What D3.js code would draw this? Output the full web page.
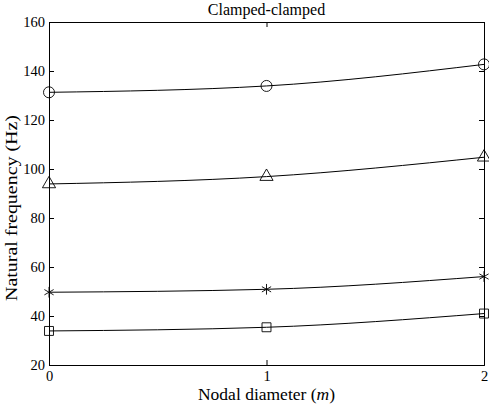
<!DOCTYPE html>
<html>
<head>
<meta charset="utf-8">
<script src="https://cdn.jsdelivr.net/npm/d3@7"></script>
<style>
	body{margin:0;background:#fff;}
	svg text{font-family:"Liberation Serif","Times New Roman",serif;fill:#000;}
</style>
</head>
<body>
<svg id="chart" width="489" height="405"></svg>
<script>
// nodal diameter
var modes = [0, 1, 2];
var xTicks = [0, 1, 2];
var yTicks = [20, 40, 60, 80, 100, 120, 140, 160];
// natural frequencies (Hz)
var circleSeries = [131.3, 133.9, 142.7];
var triangleSeries = [93.9, 96.9, 104.8];
var starSeries = [49.7, 50.9, 56.1];
var squareSeries = [33.9, 35.4, 41.0];

var series = [
	{marker: "circle", values: circleSeries},
	{marker: "triangle", values: triangleSeries},
	{marker: "star", values: starSeries},
	{marker: "square", values: squareSeries}
];

var svg = d3.select("#chart");
var margin = {left: 49, right: 5, top: 22, bottom: 40};
var W = 489, H = 405;

var x = d3.scaleLinear().domain([0, 2]).range([margin.left, W - margin.right]);
var y = d3.scaleLinear().domain([20, 160]).range([H - margin.bottom, margin.top]);

// axes, ticks drawn inward like matlab
var tk = 5;
svg.append("g").attr("transform", "translate(0," + y(20) + ")")
	.call(d3.axisBottom(x).tickValues(xTicks).tickSize(-tk).tickPadding(6).tickFormat(d3.format("d")));
svg.append("g").attr("transform", "translate(0," + y(160) + ")")
	.call(d3.axisTop(x).tickValues(xTicks).tickSize(-tk).tickFormat(""));
svg.append("g").attr("transform", "translate(" + x(0) + ",0)")
	.call(d3.axisLeft(y).tickValues(yTicks).tickSize(-tk).tickPadding(4));
svg.append("g").attr("transform", "translate(" + x(2) + ",0)")
	.call(d3.axisRight(y).tickValues(yTicks).tickSize(-tk).tickFormat(""));

svg.selectAll(".domain").attr("stroke", "#000").attr("stroke-width", 1);
svg.selectAll(".tick line").attr("stroke", "#000");
svg.selectAll(".tick text").attr("font-size", 14.5).attr("font-family", "Liberation Serif");

// curves
var line = d3.line()
	.x(function(d, i){ return x(modes[i]); })
	.y(function(d){ return y(d); })
	.curve(d3.curveMonotoneX);

var g = svg.append("g");
series.forEach(function(s){
	g.append("path")
		.attr("d", line(s.values))
		.attr("fill", "none")
		.attr("stroke", "#000")
		.attr("stroke-width", 1);
});

// markers
var symbols = {
	circle: d3.symbol().type(d3.symbolCircle).size(95),
	triangle: d3.symbol().type(d3.symbolTriangle).size(75),
	star: d3.symbol().type(d3.symbolAsterisk).size(80),
	square: d3.symbol().type(d3.symbolSquare).size(80)
};
series.forEach(function(s){
	g.selectAll(null).data(s.values).enter().append("path")
		.attr("transform", function(d, i){ return "translate(" + x(modes[i]) + "," + y(d) + ")"; })
		.attr("d", symbols[s.marker])
		.attr("fill", "none")
		.attr("stroke", "#000")
		.attr("stroke-width", 0.9);
});

// labels
svg.append("text").attr("x", (x(0) + x(2)) / 2).attr("y", 15)
	.attr("text-anchor", "middle").attr("font-size", 16).text("Clamped-clamped");

var xl = svg.append("text").attr("x", (x(0) + x(2)) / 2).attr("y", 400)
	.attr("text-anchor", "middle").attr("font-size", 17.5);
xl.append("tspan").text("Nodal diameter (");
xl.append("tspan").attr("font-style", "italic").text("m");
xl.append("tspan").text(")");

svg.append("text").attr("transform", "translate(17,208) rotate(-90)")
	.attr("text-anchor", "middle").attr("font-size", 17.5)
	.attr("textLength", 186).attr("lengthAdjust", "spacingAndGlyphs")
	.text("Natural frequency (Hz)");
</script>
</body>
</html>
